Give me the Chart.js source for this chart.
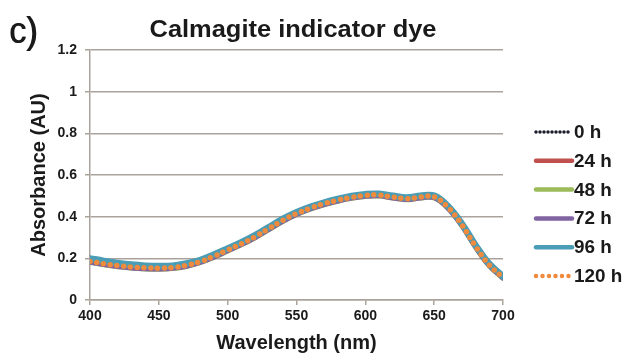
<!doctype html>
<html>
<head>
<title>Calmagite indicator dye</title>
<script src="https://cdn.jsdelivr.net/npm/chart.js@4/dist/chart.umd.min.js"></script>
<style>
  html, body { margin: 0; padding: 0; background: #fff; }
  #wrap { width: 626px; height: 356px; }
</style>
</head>
<body>
<div id="wrap"><canvas id="canvas"></canvas></div>
<script>
// wavelengths (nm)
var wavelengths = [400, 410, 420, 430, 440, 450, 460, 470, 480, 490, 500, 510, 520, 530, 540, 550,
                   560, 570, 580, 590, 600, 610, 620, 630, 640, 650, 660, 670, 680, 690, 700];

var seriesLabels = ['0 h', '24 h', '48 h', '72 h', '96 h', '120 h'];

var abs0h   = [0.186,0.175,0.166,0.159,0.155,0.154,0.157,0.167,0.185,0.211,0.241,0.271,0.305,0.344,0.383,0.416,0.442,0.463,0.480,0.494,0.503,0.505,0.495,0.487,0.495,0.496,0.446,0.363,0.259,0.169,0.109];
var abs24h  = [0.184,0.173,0.164,0.157,0.153,0.152,0.155,0.165,0.183,0.209,0.239,0.269,0.303,0.342,0.381,0.414,0.440,0.461,0.478,0.492,0.501,0.503,0.493,0.485,0.493,0.494,0.444,0.361,0.257,0.167,0.107];
var abs48h  = [0.180,0.169,0.160,0.153,0.149,0.148,0.151,0.161,0.179,0.205,0.235,0.265,0.299,0.338,0.377,0.410,0.436,0.457,0.474,0.488,0.497,0.499,0.489,0.481,0.489,0.490,0.440,0.357,0.254,0.164,0.104];
var abs72h  = [0.181,0.170,0.161,0.154,0.150,0.149,0.152,0.162,0.180,0.206,0.236,0.266,0.300,0.339,0.378,0.411,0.437,0.458,0.475,0.489,0.498,0.500,0.490,0.482,0.490,0.491,0.441,0.358,0.255,0.165,0.105];
var abs96h  = [0.200,0.188,0.178,0.170,0.165,0.163,0.165,0.175,0.192,0.218,0.247,0.277,0.311,0.350,0.389,0.421,0.447,0.468,0.485,0.499,0.508,0.510,0.500,0.492,0.500,0.501,0.451,0.368,0.264,0.174,0.114];
var abs120h = [0.185,0.174,0.165,0.158,0.154,0.153,0.156,0.166,0.184,0.210,0.240,0.270,0.304,0.343,0.382,0.415,0.441,0.462,0.479,0.493,0.502,0.504,0.494,0.486,0.494,0.495,0.445,0.362,0.258,0.168,0.108];

var xTicks = [400, 450, 500, 550, 600, 650, 700];
var yTicks = [0, 0.2, 0.4, 0.6, 0.8, 1, 1.2];

var allSeries = [abs0h, abs24h, abs48h, abs72h, abs96h, abs120h];
var colors = ['#1c1c2c', '#c0504d', '#9bbb59', '#8064a2', '#4a9db5', '#f08a3c'];
var widths = [4.5, 5, 5, 5, 6.5, 5.5];
var dashes = [[0, 4.5], [], [], [], [], [0, 6.8]];

var gridColor = '#aba39b';
var textColor = '#1a1a1a';
var fontFam = '"Liberation Sans", Arial, sans-serif';

var datasets = allSeries.map(function(vals, i) {
    return {
        label: seriesLabels[i],
        data: wavelengths.map(function(w, k) { return {x: w, y: vals[k]}; }),
        borderColor: colors[i],
        backgroundColor: colors[i],
        borderWidth: widths[i],
        borderDash: dashes[i],
        borderCapStyle: 'round',
        pointRadius: 0,
        tension: 0.4,
        fill: false,
        order: allSeries.length - i   // 0 h underneath, 120 h on top
    };
});

// text drawn slightly stretched sideways, like the original figure
function wideText(ctx, txt, x, y, sx, align) {
    ctx.save();
    ctx.translate(x, y);
    ctx.scale(sx, 1);
    ctx.textAlign = align;
    ctx.fillText(txt, 0, 0);
    ctx.restore();
}

// title, panel letter and legend drawn on the canvas
var extras = {
    id: 'extras',
    afterDraw: function(chart) {
        var ctx = chart.ctx;
        ctx.save();
        ctx.fillStyle = textColor;
        ctx.textBaseline = 'middle';

        ctx.font = '36px ' + fontFam;
        wideText(ctx, 'c)', 9, 33, 0.95, 'left');
        wideText(ctx, 'c)', 9.8, 33, 0.95, 'left');

        ctx.font = 'bold 24px ' + fontFam;
        wideText(ctx, 'Calmagite indicator dye', 293, 30, 1.06, 'center');

        ctx.font = 'bold 18px ' + fontFam;
        chart.data.datasets.forEach(function(ds, i) {
            var y = 132 + i * 28.8;
            ctx.beginPath();
            ctx.strokeStyle = ds.borderColor;
            ctx.lineWidth = i === 0 ? 3.5 : 4.5;
            ctx.lineCap = 'round';
            ctx.setLineDash(i === 0 ? [0, 4] : (i === 5 ? [0, 6.5] : []));
            ctx.moveTo(536, y);
            ctx.lineTo(572, y);
            ctx.stroke();
            ctx.setLineDash([]);
            wideText(ctx, ds.label, 574, y + 1, 1.05, 'left');
        });
        ctx.restore();
    }
};

var config = {
    type: 'line',
    data: { datasets: datasets },
    options: {
        responsive: false,
        animation: false,
        layout: { padding: { top: 50, right: 123, left: 27, bottom: 0 } },
        plugins: {
            legend: { display: false },
            title: { display: false },
            tooltip: { enabled: false }
        },
        scales: {
            x: {
                type: 'linear',
                min: 400,
                max: 700,
                afterBuildTicks: function(s) { s.ticks = xTicks.map(function(v) { return {value: v}; }); },
                afterFit: function(s) { s.height = 56; },
                grid: { drawOnChartArea: false, drawTicks: true, tickLength: 5, color: gridColor, lineWidth: 1.5 },
                border: { color: gridColor, width: 1.5 },
                ticks: { color: textColor, font: { family: fontFam, size: 14, weight: 'bold' }, padding: 3, maxRotation: 0 },
                title: { display: true, text: 'Wavelength (nm)', color: textColor,
                         font: { family: fontFam, size: 20, weight: 'bold' }, padding: { top: 0, bottom: 1 } }
            },
            y: {
                min: 0,
                max: 1.2,
                afterBuildTicks: function(s) { s.ticks = yTicks.map(function(v) { return {value: v}; }); },
                afterFit: function(s) { s.width = 63; },
                grid: { drawTicks: true, tickLength: 5, color: gridColor, lineWidth: 1.5 },
                border: { color: gridColor, width: 1.5 },
                ticks: { color: textColor, font: { family: fontFam, size: 14, weight: 'bold' }, padding: 8,
                         callback: function(v) { return String(Math.round(v * 10) / 10); } },
                title: { display: true, text: 'Absorbance (AU)', color: textColor,
                         font: { family: fontFam, size: 20, weight: 'bold' }, padding: 0 }
            }
        }
    },
    plugins: [extras]
};

window.onload = function() {
    var cv = document.getElementById('canvas');
    cv.width = 626;
    cv.height = 356;
    window.myChart = new Chart(cv, config);
};
</script>
</body>
</html>
